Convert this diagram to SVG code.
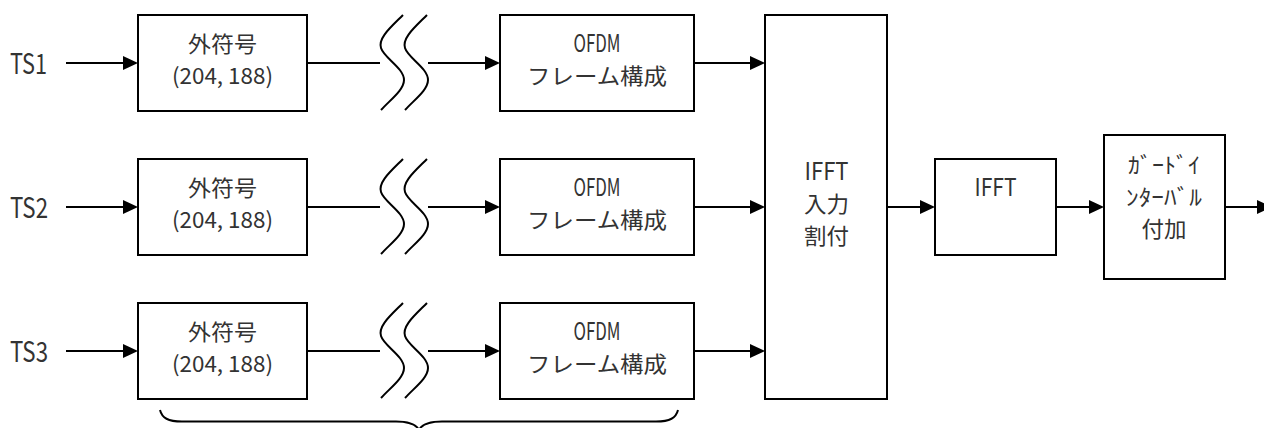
<svg xmlns="http://www.w3.org/2000/svg" width="1264" height="428" viewBox="0 0 1264 428">
<style>
  .box{fill:#fff;stroke:#000;stroke-width:2}
  .t{font-family:"Noto Sans CJK JP","Noto Sans",sans-serif;font-size:22px;fill:#333;text-anchor:middle}
  .l{font-size:24px}
  .ts{font-family:"Noto Sans CJK JP","Noto Sans",sans-serif;font-size:28px;fill:#333}
  .c{fill:none;stroke:#000;stroke-width:2}
  .arr{fill:none;stroke:#000;stroke-width:2;marker-end:url(#ah)}
  .sq{fill:none;stroke:#000;stroke-width:2}
</style>
<defs>
  <marker id="ah" markerUnits="userSpaceOnUse" markerWidth="16" markerHeight="16" refX="5" refY="7" orient="auto" overflow="visible">
    <path d="M0,0 L15,7 L0,14 Z" fill="#000"/>
  </marker>
  <path id="wave" d="M403,15 C390,28 378,38 381,48 C384,58 404,68 404,80 C404,90 390,100 381,110"/>
</defs>

<g id="ts1"><text class="ts" x="10" y="74" textLength="37" lengthAdjust="spacingAndGlyphs">TS1</text></g>
<g id="ts2"><text class="ts" x="10" y="218" textLength="38" lengthAdjust="spacingAndGlyphs">TS2</text></g>
<g id="ts3"><text class="ts" x="10" y="362" textLength="38" lengthAdjust="spacingAndGlyphs">TS3</text></g>

<g id="outer1">
  <rect class="box" x="138" y="15" width="169" height="96"/>
  <text class="t" x="222.5" y="52" textLength="69" lengthAdjust="spacingAndGlyphs">外符号</text>
  <text class="t" x="222.5" y="84" textLength="101" lengthAdjust="spacingAndGlyphs">(204, 188)</text>
</g>
<g id="outer2">
  <rect class="box" x="138" y="159" width="169" height="96"/>
  <text class="t" x="222.5" y="196" textLength="69" lengthAdjust="spacingAndGlyphs">外符号</text>
  <text class="t" x="222.5" y="228" textLength="101" lengthAdjust="spacingAndGlyphs">(204, 188)</text>
</g>
<g id="outer3">
  <rect class="box" x="138" y="303" width="169" height="96"/>
  <text class="t" x="222.5" y="340" textLength="69" lengthAdjust="spacingAndGlyphs">外符号</text>
  <text class="t" x="222.5" y="372" textLength="101" lengthAdjust="spacingAndGlyphs">(204, 188)</text>
</g>

<g id="ofdm1">
  <rect class="box" x="500" y="15" width="194" height="96"/>
  <text class="t l" x="597" y="52" textLength="47" lengthAdjust="spacingAndGlyphs">OFDM</text>
  <text class="t" x="597" y="84" textLength="140" lengthAdjust="spacingAndGlyphs">フレーム構成</text>
</g>
<g id="ofdm2">
  <rect class="box" x="500" y="159" width="194" height="96"/>
  <text class="t l" x="597" y="196" textLength="47" lengthAdjust="spacingAndGlyphs">OFDM</text>
  <text class="t" x="597" y="228" textLength="140" lengthAdjust="spacingAndGlyphs">フレーム構成</text>
</g>
<g id="ofdm3">
  <rect class="box" x="500" y="303" width="194" height="96"/>
  <text class="t l" x="597" y="340" textLength="47" lengthAdjust="spacingAndGlyphs">OFDM</text>
  <text class="t" x="597" y="372" textLength="140" lengthAdjust="spacingAndGlyphs">フレーム構成</text>
</g>

<g id="ifft-input">
  <rect class="box" x="765" y="15" width="122" height="384"/>
  <text class="t l" x="826.5" y="180" textLength="44" lengthAdjust="spacingAndGlyphs">IFFT</text>
  <text class="t" x="826.5" y="212" textLength="45" lengthAdjust="spacingAndGlyphs">入力</text>
  <text class="t" x="826.5" y="244" textLength="45" lengthAdjust="spacingAndGlyphs">割付</text>
</g>

<g id="ifft">
  <rect class="box" x="935" y="159" width="121" height="96"/>
  <text class="t l" x="995.5" y="196" textLength="42" lengthAdjust="spacingAndGlyphs">IFFT</text>
</g>

<g id="guard">
  <rect class="box" x="1104" y="135" width="121" height="144"/>
  <text class="t" x="1164" y="173" textLength="72" lengthAdjust="spacingAndGlyphs">ｶﾞｰﾄﾞｲ</text>
  <text class="t" x="1164" y="205" textLength="76" lengthAdjust="spacingAndGlyphs">ﾝﾀｰﾊﾞﾙ</text>
  <text class="t" x="1164" y="237" textLength="45" lengthAdjust="spacingAndGlyphs">付加</text>
</g>

<g id="breaks">
  <use href="#wave" class="sq"/>
  <use href="#wave" class="sq" transform="translate(24,0)"/>
  <use href="#wave" class="sq" transform="translate(0,144)"/>
  <use href="#wave" class="sq" transform="translate(24,144)"/>
  <use href="#wave" class="sq" transform="translate(0,288)"/>
  <use href="#wave" class="sq" transform="translate(24,288)"/>
</g>

<g id="connectors">
  <path class="arr" d="M66,63 H128"/>
  <path class="arr" d="M66,207 H128"/>
  <path class="arr" d="M66,351 H128"/>
  <path class="c" d="M307,63 H380"/>
  <path class="c" d="M307,207 H380"/>
  <path class="c" d="M307,351 H380"/>
  <path class="arr" d="M428,63 H490"/>
  <path class="arr" d="M428,207 H490"/>
  <path class="arr" d="M428,351 H490"/>
  <path class="arr" d="M694,63 H755"/>
  <path class="arr" d="M694,207 H755"/>
  <path class="arr" d="M694,351 H755"/>
  <path class="arr" d="M887,207 H925"/>
  <path class="arr" d="M1056,207 H1094"/>
  <path class="arr" d="M1225,207 H1262"/>
</g>

<g id="brace">
  <path class="c" stroke-width="1.6" d="M160,410 C162,418 168,421.5 182,421.5 L396,421.5 C409,421.5 416,424 419,430 C422,424 429,421.5 442,421.5 L656,421.5 C670,421.5 676,418 678,410"/>
</g>
</svg>
